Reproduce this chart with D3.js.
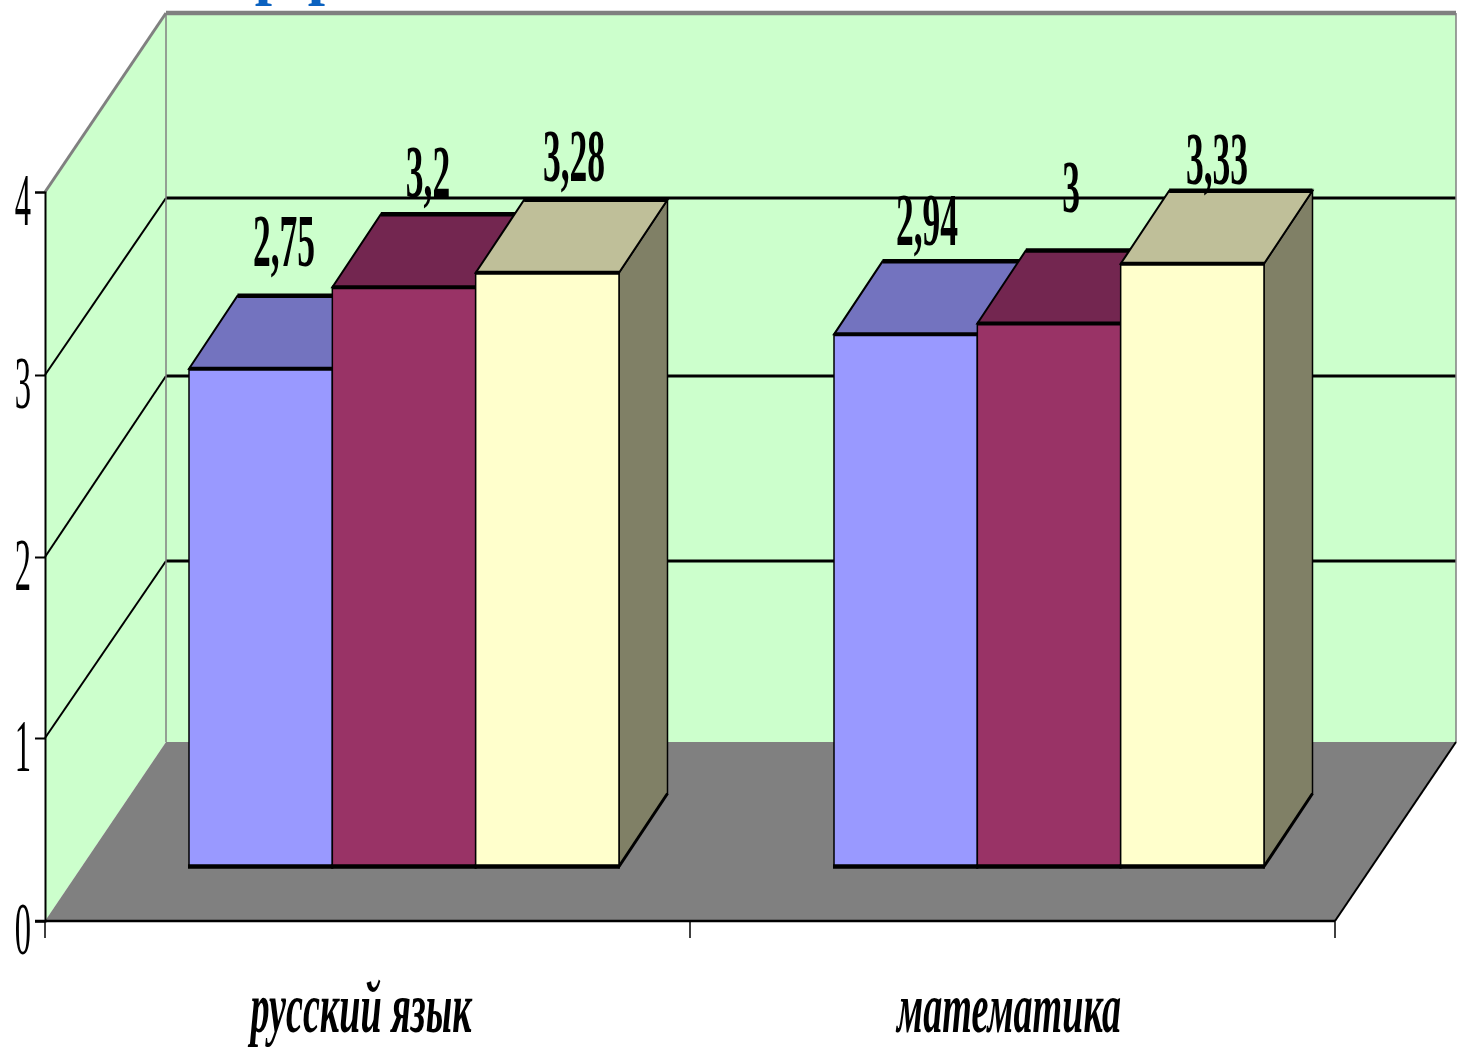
<!DOCTYPE html>
<html><head><meta charset="utf-8">
<script src="https://cdn.jsdelivr.net/npm/d3@7/dist/d3.min.js"></script>
<style>html,body{margin:0;padding:0;background:#fff}svg{display:block}</style>
</head><body><svg id="c" width="1460" height="1052"></svg>
<script>
const categories = ["русский язык", "математика"];
const seriesA = [2.75, 2.94];
const seriesB = [3.2, 3];
const seriesC = [3.28, 3.33];
const seriesLabels = [["2,75","2,94"],["3,2","3"],["3,28","3,33"]];
const yTicks = [0,1,2,3,4];
const titleFragments = ["р","р"];

const allSeries = [seriesA, seriesB, seriesC];
const frontFill = ["#9999ff","#993366","#ffffcc"];
const topFill = ["#7373bf","#732650","#bfbf99"];
const sideFill = ["#7373bf","#732650","#808066"];

const svg = d3.select("#c");
const W = {x0:45, x1:1335, dx:121};
const plane = {dx:37, by:866.5, depthX:48.5, depthY:73};

// front axis and back wall are the same value scale seen in oblique projection
const y = d3.scaleLinear().domain(yTicks).range([921,738,557,375,192]);
const yBack = d3.scaleLinear().domain(yTicks).range([742,561,376,198,13]);
const barH = d3.scaleLinear().domain([0,4]).range([0,724]);
const xCat = d3.scaleBand().domain(categories).range([W.x0,W.x1]);
const xSer = d3.scaleBand().domain([0,1,2]).range([107,537]);

const pts = a => a.map(p=>p.join(",")).join(" ");
const poly = (p,fill,stroke,sw)=>svg.append("polygon").attr("points",pts(p)).attr("fill",fill)
  .attr("stroke",stroke||"none").attr("stroke-width",sw||0);
const line = (x1,y1,x2,y2,c,w)=>svg.append("line").attr("x1",x1).attr("y1",y1).attr("x2",x2).attr("y2",y2)
  .attr("stroke",c).attr("stroke-width",w);

// blue title remnant: only the descenders survive at the top edge of the picture
svg.append("g").selectAll("text").data(titleFragments).join("text")
  .attr("x",(d,i)=>[272,325][i]).attr("y",-7).attr("text-anchor","middle")
  .attr("font-family","Liberation Serif").attr("font-weight","bold").attr("font-size",62)
  .attr("fill","#0b62c0").text(d=>d);

// walls
const bx0=W.x0+W.dx, bx1=W.x1+W.dx;
poly([[bx0,yBack(4)],[bx1,yBack(4)],[bx1,yBack(0)],[bx0,yBack(0)]],"#ccffcc");
poly([[W.x0,y(4)],[bx0,yBack(4)],[bx0,yBack(0)],[W.x0,y(0)]],"#ccffcc");
poly([[W.x0,y(0)],[W.x1,y(0)],[bx1,yBack(0)],[bx0,yBack(0)]],"#808080");

// gridlines
[1,2,3].forEach(v=>{
  line(W.x0,y(v),bx0,yBack(v),"#000",2);
  line(bx0,yBack(v),bx1,yBack(v),"#000",3);
});
// wall outline
line(W.x0,y(4),bx0,yBack(4),"#808080",3);
line(bx0,yBack(4),bx1,yBack(4),"#808080",4.5);
line(bx0,yBack(4),bx0,yBack(0),"#808080",1.5);
line(bx1,yBack(4),bx1,yBack(0),"#808080",1.5);
line(W.x1,y(0),bx1,yBack(0),"#000",2);

// bars
categories.forEach((c,ci)=>{
  const base = xCat(c)+plane.dx;
  const by = plane.by;
  allSeries.forEach((s,si)=>{
    const x0 = base+xSer(si), x1 = x0+xSer.bandwidth(), t = by-barH(s[ci]);
    const dx=plane.depthX, dy=plane.depthY;
    poly([[x1,t],[x1+dx,t-dy],[x1+dx,by-dy],[x1,by]],sideFill[si],"#000",1.5);
    line(x1,by,x1+dx,by-dy,"#000",3);
    poly([[x0,t],[x0+dx,t-dy],[x1+dx,t-dy],[x1,t]],topFill[si],"#000",2);
    line(x0+dx,t-dy,x1+dx,t-dy,"#000",4.5);
    poly([[x0,t],[x1,t],[x1,by],[x0,by]],frontFill[si],"#000",1.5);
    line(x0,t,x1,t,"#000",4);
    line(x0-1,by,x1+1,by,"#000",4.5);
  });
});

// data labels
const labelPos = [[[284,266],[927,245]],[[428,197],[1071,212]],[[574,181],[1217,184]]];
seriesLabels.forEach((ls,si)=>ls.forEach((l,ci)=>{
  const [lx,ly]=labelPos[si][ci];
  svg.append("text").attr("transform",`translate(${lx},${ly}) scale(0.48,1)`)
    .attr("text-anchor","middle").attr("font-family","Liberation Serif").attr("font-weight","bold")
    .attr("font-size",74).attr("fill","#000").text(l);
}));

// axes
const yAxis = d3.axisLeft(y).tickValues(yTicks).tickSize(10).tickFormat("");
const ga = svg.append("g").attr("transform",`translate(${W.x0},0)`).call(yAxis);
ga.selectAll("path").attr("stroke","#000").attr("stroke-width",2);
ga.selectAll("line").attr("stroke","#000").attr("stroke-width",2);
line(W.x0-10,y(0),W.x1,y(0),"#000",2.5);
xCat.domain().forEach(c=>line(xCat(c),y(0),xCat(c),y(0)+17,"#000",1.5));
line(W.x1,y(0),W.x1,y(0)+17,"#000",1.5);

yTicks.forEach(v=>{
  svg.append("text").attr("transform",`translate(23,${y(v)+33}) scale(0.44,1)`)
    .attr("text-anchor","middle").attr("font-family","Liberation Serif").attr("font-size",74)
    .attr("fill","#000").text(v);
});

// category labels
const catCenters = [361,1009];
categories.forEach((c,i)=>{
  svg.append("text").attr("transform",`translate(${catCenters[i]},1032) scale(0.53,1)`)
    .attr("text-anchor","middle").attr("font-family","Liberation Serif").attr("font-style","italic").attr("font-weight","bold")
    .attr("font-size",72).attr("fill","#000").text(c);
});
</script></body></html>
